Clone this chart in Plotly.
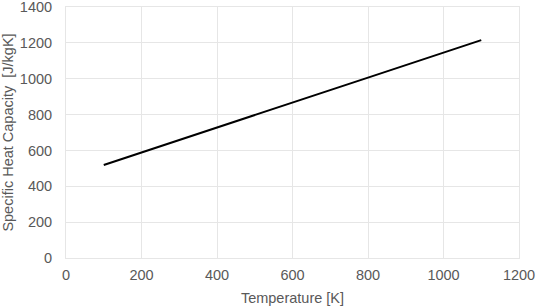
import plotly.graph_objects as go

temperature = [100, 200, 300, 400, 500, 600, 700, 800, 900, 1000, 1100]
heat_capacity = [519, 588, 658, 728, 797, 867, 936, 1006, 1076, 1145, 1215]

x_ticks = [0, 200, 400, 600, 800, 1000, 1200]
y_ticks = [0, 200, 400, 600, 800, 1000, 1200, 1400]

grid = "#e6e6e6"
txt = "#595959"
font_family = "Liberation Sans, Arial, sans-serif"
fs = 14.5

fig = go.Figure()
fig.add_trace(go.Scatter(x=temperature, y=heat_capacity, mode="lines",
                         line=dict(color="black", width=2), showlegend=False,
                         hoverinfo="skip"))

fig.update_layout(
    width=536, height=306,
    margin=dict(l=66, r=17, t=7, b=48),
    paper_bgcolor="white", plot_bgcolor="white",
    font=dict(family=font_family, size=fs, color=txt),
    xaxis=dict(range=[0, 1200], tickvals=x_ticks, showgrid=True, gridcolor=grid,
               gridwidth=1, zeroline=False, showline=True, linecolor=grid, mirror=True,
               ticks="", automargin=False, ticklabelstandoff=4, ticklabeloverflow="allow",
               title=dict(text="Temperature [K]", font=dict(size=fs, color=txt))),
    yaxis=dict(range=[0, 1400], tickvals=y_ticks, showgrid=True, gridcolor=grid,
               gridwidth=1, zeroline=False, showline=True, linecolor=grid, mirror=True,
               ticks="", automargin=False, ticklabelstandoff=10, ticklabeloverflow="allow",
               title=dict(text="Specific Heat Capacity  [J/kgK]", font=dict(size=fs, color=txt))),
)

fig.write_html("out.html", config={"displayModeBar": False},
               post_script="document.body.style.margin='0';")
